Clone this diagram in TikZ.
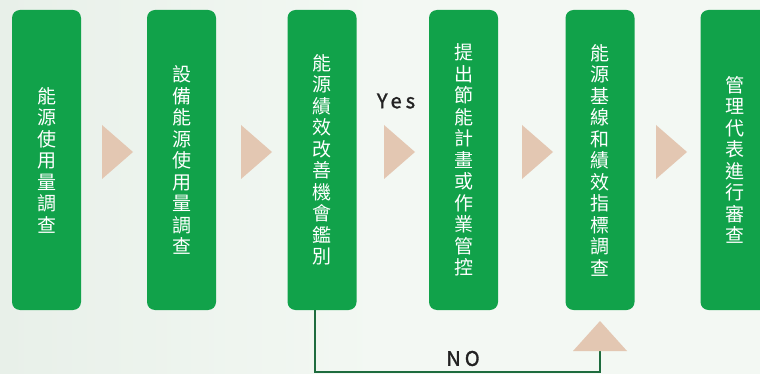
\documentclass[tikz,border=0pt]{standalone}
\usepackage{fontspec}
\newfontfamily\cjk{Noto Sans CJK TC}
\newfontfamily\latin[LetterSpace=20,FakeBold=1.6]{Noto Sans CJK TC}
\definecolor{boxgreen}{RGB}{17,162,74}
\definecolor{tri}{RGB}{227,199,178}
\definecolor{linegreen}{RGB}{30,108,62}
\definecolor{bgleft}{RGB}{232,240,233}
\definecolor{bgright}{RGB}{243,248,243}
\definecolor{labeltext}{RGB}{34,34,34}
\tikzset{
  stepbox/.style={fill=boxgreen, rounded corners=8pt, minimum width=69pt, minimum height=300pt,
    inner sep=0pt, align=center, text=white, font=\cjk\fontsize{19}{21.5}\selectfont},
  arrowtri/.style={fill=tri},
  loopline/.style={draw=linegreen, line width=1.8pt},
  lbl/.style={text=labeltext, font=\latin\fontsize{20}{22}\selectfont, inner sep=0pt}
}
\begin{document}
\begin{tikzpicture}[x=1pt,y=-1pt]
\useasboundingbox (0,0) rectangle (760,374);
\clip (0,0) rectangle (760,374);
\shade[left color=bgleft, right color=bgright] (0,0) rectangle (380,374);
\fill[bgright] (379.5,0) rectangle (760,374);

\node[stepbox] (b1) at (46.5,160) {能\\源\\使\\用\\量\\調\\查};
\node[stepbox] (b2) at (181.5,160) {設\\備\\能\\源\\使\\用\\量\\調\\查};
\node[stepbox] (b3) at (322,160) {能\\源\\績\\效\\改\\善\\機\\會\\鑑\\別};
\node[stepbox] (b4) at (463.5,160) {提\\出\\節\\能\\計\\畫\\或\\作\\業\\管\\控};
\node[stepbox] (b5) at (600,160) {能\\源\\基\\線\\和\\績\\效\\指\\標\\調\\查};
\node[stepbox] (b6) at (735,160) {管\\理\\代\\表\\進\\行\\審\\查};

% right-pointing arrow triangles
\fill[arrowtri] (102,125) -- (133,152) -- (102,179) -- cycle;
\fill[arrowtri] (241,125) -- (272,152) -- (241,179) -- cycle;
\fill[arrowtri] (384,125) -- (415,152) -- (384,179) -- cycle;
\fill[arrowtri] (522,125) -- (553,152) -- (522,179) -- cycle;
\fill[arrowtri] (656,125) -- (687,152) -- (656,179) -- cycle;

% NO loop
\coordinate (nostart) at ([xshift=-7pt]b3.south);
\coordinate (tribase) at (600,351);
\coordinate (corner) at (315,372);
\draw[loopline] (nostart) -- (corner) -| (tribase);
\fill[arrowtri] (573,351) -- (600,321) -- (627,351) -- cycle;

\node[lbl] (yes) at (396,101) {Yes};
\node[lbl] (no) at (463,358.5) {NO};
\end{tikzpicture}
\end{document}
